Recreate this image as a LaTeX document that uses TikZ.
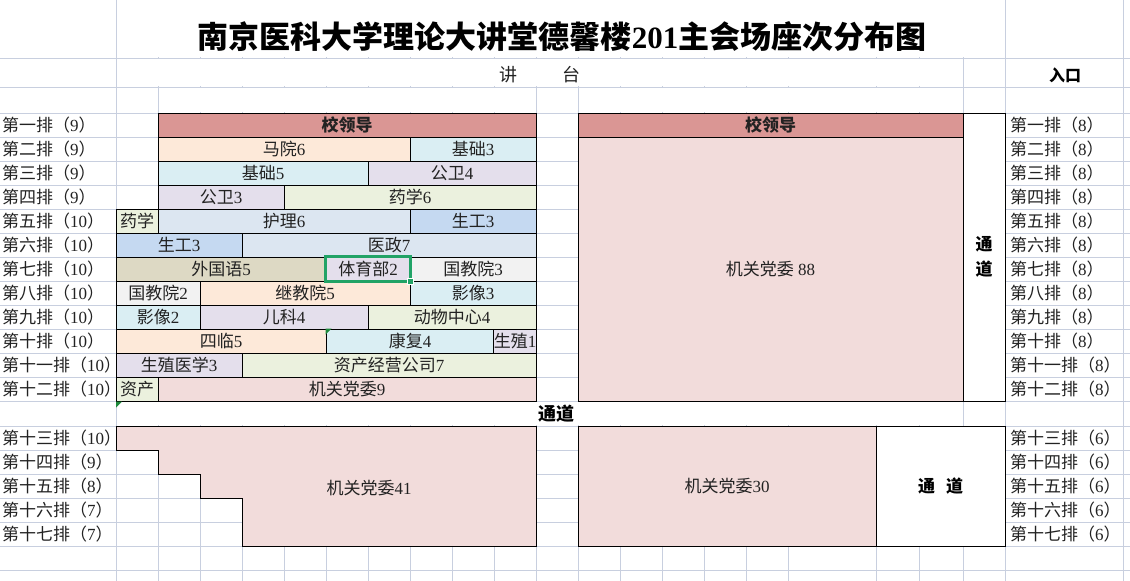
\documentclass[tikz,border=0pt]{standalone}
\usepackage{fontspec}
\setmainfont{Liberation Serif}
\newfontfamily\cjk{Noto Sans CJK SC}
\newcommand\zh[1]{{\cjk #1}}
\definecolor{gridc}{HTML}{C8CFDF}
\definecolor{lead}{HTML}{DA9694}
\definecolor{pinkc}{HTML}{F2DCDB}
\definecolor{peach}{HTML}{FDE9D9}
\definecolor{lblue}{HTML}{DAEEF3}
\definecolor{lav}{HTML}{E4DFEC}
\definecolor{lgreen}{HTML}{EBF1DE}
\definecolor{steel}{HTML}{DCE6F1}
\definecolor{bluec}{HTML}{C5D9F1}
\definecolor{tan}{HTML}{DDD9C4}
\definecolor{grayc}{HTML}{F2F2F2}
\definecolor{txt}{HTML}{222222}
\definecolor{selg}{HTML}{21A366}
\definecolor{errg}{HTML}{1E8A3C}
\newcommand\seatcell[6]{% name, x1, x2, row, fill, text
  \pgfmathsetmacro\cw{#3-#2}%
  \pgfmathsetmacro\cx{(#2+#3)/2}%
  \pgfmathsetmacro\cy{113+24*(#4-1)+12}%
  \node[seat,fill=#5,minimum width=\cw pt] (#1) at (\cx,\cy) {#6};}
\newcommand\rowlab[4]{% name, x, y, text
  \node[lab] (#1) at (#2,#3) {#4};}
\begin{document}
\begin{tikzpicture}[x=1pt,y=-1pt,
  gridl/.style={draw=gridc,line width=0.8pt},
  border/.style={draw=black,line width=0.9pt},
  seat/.style={border,minimum height=24pt,inner sep=0pt,text=txt,
    font=\fontsize{17}{20}\selectfont},
  lab/.style={anchor=west,inner sep=0pt,text=txt,font=\fontsize{17}{20}\selectfont},
  plain/.style={inner sep=0pt,text=txt,font=\fontsize{17}{20}\selectfont},
  bold/.style={inner sep=0pt,text=black,font=\fontsize{17}{25}\selectfont\bfseries}]
\useasboundingbox (0,0) rectangle (1130,581);
\fill[white] (0,0) rectangle (1130,581);
% grid lines
\foreach \x in {116,158,200,242,284,326,368,410,452,494,536,578,620,662,704,746,788,876,919,963,1005,1123}
  \draw[gridl] (\x,0) -- (\x,581);
\foreach \y in {58,87,113,137,...,401,426,450,474,498,522,546,570}
  \draw[gridl] (0,\y) -- (1130,\y);
% merged areas
\fill[white] (116.6,0) rectangle (1004.4,57.4);
\fill[white] (116.6,58.6) rectangle (962.4,86.4);
\fill[white] (158.6,87.6) rectangle (535.4,112.4);
\fill[white] (578.6,87.6) rectangle (962.4,112.4);
\fill[white] (116.6,401.6) rectangle (962.4,425.4);
% headings
\node[inner sep=0pt,font=\fontsize{31}{34}\selectfont\bfseries] (title) at (562,37)
  {\zh{南京医科大学理论大讲堂德馨楼}201\zh{主会场座次分布图}};
\node[plain,font=\fontsize{18}{20}\selectfont] (stage) at (540,75) {\zh{讲}\hspace{45pt}\zh{台}};
\node[bold,font=\fontsize{16}{20}\selectfont\bfseries] (entry) at (1065,75) {\zh{入口}};
% left block
\seatcell{L1a}{158}{536}{1}{lead}{\bfseries\zh{校领导}}
\seatcell{L2a}{158}{410}{2}{peach}{\zh{马院}6}
\seatcell{L2b}{410}{536}{2}{lblue}{\zh{基础}3}
\seatcell{L3a}{158}{368}{3}{lblue}{\zh{基础}5}
\seatcell{L3b}{368}{536}{3}{lav}{\zh{公卫}4}
\seatcell{L4a}{158}{284}{4}{lav}{\zh{公卫}3}
\seatcell{L4b}{284}{536}{4}{lgreen}{\zh{药学}6}
\seatcell{L5a}{116}{158}{5}{lgreen}{\zh{药学}}
\seatcell{L5b}{158}{410}{5}{steel}{\zh{护理}6}
\seatcell{L5c}{410}{536}{5}{bluec}{\zh{生工}3}
\seatcell{L6a}{116}{242}{6}{bluec}{\zh{生工}3}
\seatcell{L6b}{242}{536}{6}{steel}{\zh{医政}7}
\seatcell{L7a}{116}{326}{7}{tan}{\zh{外国语}5}
\seatcell{L7b}{326}{410}{7}{lav}{\zh{体育部}2}
\seatcell{L7c}{410}{536}{7}{grayc}{\zh{国教院}3}
\seatcell{L8a}{116}{200}{8}{grayc}{\zh{国教院}2}
\seatcell{L8b}{200}{410}{8}{peach}{\zh{继教院}5}
\seatcell{L8c}{410}{536}{8}{lblue}{\zh{影像}3}
\seatcell{L9a}{116}{200}{9}{lblue}{\zh{影像}2}
\seatcell{L9b}{200}{368}{9}{lav}{\zh{儿科}4}
\seatcell{L9c}{368}{536}{9}{lgreen}{\zh{动物中心}4}
\seatcell{L10a}{116}{326}{10}{peach}{\zh{四临}5}
\seatcell{L10b}{326}{494}{10}{lblue}{\zh{康复}4}
\seatcell{L10c}{494}{536}{10}{lav}{\zh{生殖}1}
\seatcell{L11a}{116}{242}{11}{lav}{\zh{生殖医学}3}
\seatcell{L11b}{242}{536}{11}{lgreen}{\zh{资产经营公司}7}
\seatcell{L12a}{116}{158}{12}{lgreen}{\zh{资产}}
\seatcell{L12b}{158}{536}{12}{pinkc}{\zh{机关党委}9}
% right block
\seatcell{R1}{578}{963}{1}{lead}{\bfseries\zh{校领导}}
\node[seat,fill=pinkc,minimum width=385pt,minimum height=264pt] (R2) at (770.5,269) {\zh{机关党委} 88};
\node[seat,fill=white,minimum width=42pt,minimum height=288pt,align=center,
  font=\fontsize{17}{25}\selectfont\bfseries,text=black] (A1) at (984,257) {\zh{通}\\\zh{道}};
% aisle row
\node[bold,font=\fontsize{18}{20}\selectfont\bfseries] (A2) at (556,414) {\zh{通道}};
% bottom blocks
\draw[border,fill=pinkc] (116,426) -- (536,426) -- (536,546) -- (242,546) -- (242,498)
  -- (200,498) -- (200,474) -- (158,474) -- (158,450) -- (116,450) -- cycle;
\node[plain] (B1) at (369,488) {\zh{机关党委}41};
\node[seat,fill=pinkc,minimum width=298pt,minimum height=120pt] (B2) at (727,486) {\zh{机关党委}30};
\node[seat,fill=white,minimum width=129pt,minimum height=120pt,
  font=\fontsize{17}{20}\selectfont\bfseries,text=black] (A3) at (940.5,486) {\zh{通}\hspace{11pt}\zh{道}};
% selection and indicators
\draw[draw=selg,line width=2.6pt] (L7b.south west) rectangle (L7b.north east);
\node[fill=selg,draw=white,line width=0.6pt,minimum size=5.5pt,inner sep=0pt] (hdl) at (L7b.south east) {};
\fill[errg] (L10b.north west) -- ++(6,0) -- ++(-6,6) -- cycle;
\fill[errg] (116,401.5) -- ++(6,0) -- ++(-6,6) -- cycle;
% left row labels
\rowlab{la1}{2}{125}{\zh{第一排（}9\zh{）}}
\rowlab{la2}{2}{149}{\zh{第二排（}9\zh{）}}
\rowlab{la3}{2}{173}{\zh{第三排（}9\zh{）}}
\rowlab{la4}{2}{197}{\zh{第四排（}9\zh{）}}
\rowlab{la5}{2}{221}{\zh{第五排（}10\zh{）}}
\rowlab{la6}{2}{245}{\zh{第六排（}10\zh{）}}
\rowlab{la7}{2}{269}{\zh{第七排（}10\zh{）}}
\rowlab{la8}{2}{293}{\zh{第八排（}10\zh{）}}
\rowlab{la9}{2}{317}{\zh{第九排（}10\zh{）}}
\rowlab{la10}{2}{341}{\zh{第十排（}10\zh{）}}
\rowlab{la11}{2}{365}{\zh{第十一排（}10\zh{）}}
\rowlab{la12}{2}{389}{\zh{第十二排（}10\zh{）}}
\rowlab{la13}{2}{438}{\zh{第十三排（}10\zh{）}}
\rowlab{la14}{2}{462}{\zh{第十四排（}9\zh{）}}
\rowlab{la15}{2}{486}{\zh{第十五排（}8\zh{）}}
\rowlab{la16}{2}{510}{\zh{第十六排（}7\zh{）}}
\rowlab{la17}{2}{534}{\zh{第十七排（}7\zh{）}}
% right row labels
\rowlab{ra1}{1010}{125}{\zh{第一排（}8\zh{）}}
\rowlab{ra2}{1010}{149}{\zh{第二排（}8\zh{）}}
\rowlab{ra3}{1010}{173}{\zh{第三排（}8\zh{）}}
\rowlab{ra4}{1010}{197}{\zh{第四排（}8\zh{）}}
\rowlab{ra5}{1010}{221}{\zh{第五排（}8\zh{）}}
\rowlab{ra6}{1010}{245}{\zh{第六排（}8\zh{）}}
\rowlab{ra7}{1010}{269}{\zh{第七排（}8\zh{）}}
\rowlab{ra8}{1010}{293}{\zh{第八排（}8\zh{）}}
\rowlab{ra9}{1010}{317}{\zh{第九排（}8\zh{）}}
\rowlab{ra10}{1010}{341}{\zh{第十排（}8\zh{）}}
\rowlab{ra11}{1010}{365}{\zh{第十一排（}8\zh{）}}
\rowlab{ra12}{1010}{389}{\zh{第十二排（}8\zh{）}}
\rowlab{ra13}{1010}{438}{\zh{第十三排（}6\zh{）}}
\rowlab{ra14}{1010}{462}{\zh{第十四排（}6\zh{）}}
\rowlab{ra15}{1010}{486}{\zh{第十五排（}6\zh{）}}
\rowlab{ra16}{1010}{510}{\zh{第十六排（}6\zh{）}}
\rowlab{ra17}{1010}{534}{\zh{第十七排（}6\zh{）}}
\end{tikzpicture}
\end{document}
